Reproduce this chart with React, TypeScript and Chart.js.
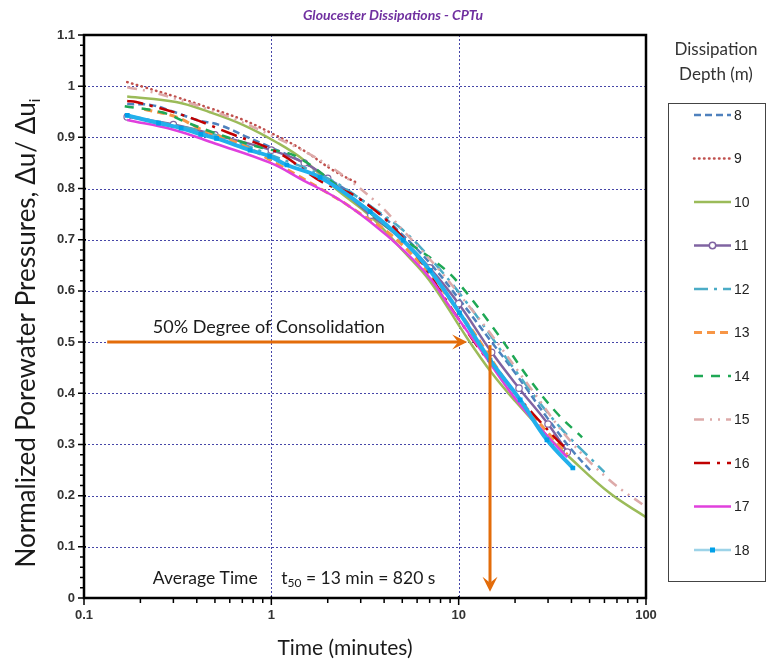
import React, { useEffect, useRef } from 'react';
import { Chart, registerables } from 'chart.js';

Chart.register(...registerables);

// ---------- DATA ----------
const DEPTHS = ['8', '9', '10', '11', '12', '13', '14', '15', '16', '17', '18'];

const T8 = [0.17, 0.23, 0.3, 0.4, 0.53, 0.75, 1, 1.5, 2, 3.4, 5, 7, 10, 15, 20, 30, 40, 52];
const U8 = [0.965, 0.963, 0.95, 0.934, 0.924, 0.9, 0.88, 0.85, 0.82, 0.765, 0.71, 0.655, 0.585, 0.5, 0.44, 0.35, 0.29, 0.244];

const T9 = [0.17, 0.21, 0.31, 0.47, 0.71, 0.98, 1.48, 2.13, 2.9];
const U9 = [1.008, 0.998, 0.979, 0.957, 0.934, 0.91, 0.875, 0.836, 0.81];

const T10 = [0.17, 0.31, 0.47, 0.71, 1.07, 1.5, 2.2, 3.4, 5, 7, 11, 15, 20, 30, 38, 64, 100];
const U10 = [0.98, 0.969, 0.949, 0.924, 0.89, 0.855, 0.8, 0.745, 0.68, 0.62, 0.51, 0.44, 0.385, 0.315, 0.279, 0.205, 0.158];

const T11 = [0.17, 0.3, 0.5, 1, 1.5, 2, 3.4, 5, 7, 10, 15, 21, 30, 38];
const U11 = [0.94, 0.925, 0.905, 0.875, 0.85, 0.82, 0.748, 0.7, 0.645, 0.575, 0.48, 0.41, 0.34, 0.285];

const T12 = [0.17, 0.25, 0.5, 1, 2, 3.4, 5, 7, 11, 20.5, 34.7, 60];
const U12 = [0.943, 0.93, 0.905, 0.865, 0.82, 0.765, 0.72, 0.665, 0.578, 0.44, 0.334, 0.246];

const T13 = [0.21, 0.31, 0.42, 0.7, 1.1, 1.88, 2.64, 5, 10, 20, 38];
const U13 = [0.955, 0.94, 0.916, 0.885, 0.846, 0.797, 0.764, 0.69, 0.56, 0.4, 0.28];

const T14 = [0.165, 0.26, 0.36, 0.47, 0.71, 0.9, 1.37, 2.5, 4.5, 7.7, 10, 16, 24, 33.5, 45.6];
const U14 = [0.961, 0.949, 0.928, 0.912, 0.89, 0.879, 0.862, 0.791, 0.715, 0.654, 0.615, 0.518, 0.426, 0.361, 0.314];

const T15 = [0.17, 0.245, 0.5, 1, 2, 3.7, 5, 7.7, 10, 14.7, 24, 39, 64, 100];
const U15 = [0.998, 0.986, 0.95, 0.904, 0.846, 0.771, 0.72, 0.645, 0.595, 0.518, 0.412, 0.309, 0.23, 0.178];

const T16 = [0.17, 0.19, 0.34, 0.6, 1.1, 1.88, 2.87, 5, 10, 13, 20, 33.5, 38.4];
const U16 = [0.971, 0.969, 0.943, 0.908, 0.869, 0.812, 0.783, 0.705, 0.545, 0.485, 0.4, 0.309, 0.289];

const T17 = [0.17, 0.3, 0.5, 0.99, 1.48, 2.24, 3.37, 5.05, 7.03, 9, 14, 20, 30, 38];
const U17 = [0.934, 0.915, 0.888, 0.85, 0.816, 0.781, 0.735, 0.68, 0.625, 0.568, 0.47, 0.39, 0.315, 0.275];

const T18 = [0.17, 0.25, 0.33, 0.42, 0.51, 0.77, 0.98, 1.21, 1.82, 3.37, 5.05, 7.03, 10.1, 14.7, 21.3, 29.6, 40.7];
const U18 = [0.943, 0.928, 0.918, 0.906, 0.898, 0.875, 0.863, 0.846, 0.822, 0.755, 0.699, 0.64, 0.557, 0.465, 0.387, 0.309, 0.254];

const SERIES_T = [T8, T9, T10, T11, T12, T13, T14, T15, T16, T17, T18];
const SERIES_U = [U8, U9, U10, U11, U12, U13, U14, U15, U16, U17, U18];

const X_TICKS = [0.1, 1, 10, 100];
const X_GRID = [1, 10];
const Y_GRID = [0.1, 0.2, 0.3, 0.4, 0.5, 0.6, 0.7, 0.8, 0.9, 1.0];

// annotation values (data coordinates)
const H_ARROW_T = [0.133, 11.1];
const H_ARROW_U = 0.5;
const V_ARROW_T = 14.7;
const V_ARROW_U = [0.494, 0.012];

// ---------- STYLES ----------
const TITLE = 'Gloucester Dissipations - CPTu';
const SANS = 'Lato, "Open Sans", sans-serif';
const ARIAL = '"Liberation Sans", Arial, sans-serif';
const GRID_COLOR = '#4646A8';
const ORANGE = '#E36C0A';

const STYLES: any[] = [
  { color: '#4F81BD', width: 2.5, dash: [7, 4] },
  { color: '#C0504D', width: 2.5, dash: [0.5, 4.5], cap: 'round' },
  { color: '#9BBB59', width: 2.5, dash: [] },
  { color: '#8064A2', width: 2.5, dash: [], point: 'circle', pr: 3.2, pbg: '#ffffff', pbc: '#8064A2' },
  { color: '#4BACC6', width: 2.5, dash: [14, 6, 3, 6] },
  { color: '#F79646', width: 3, dash: [8, 5] },
  { color: '#1FA855', width: 2.5, dash: [9, 8] },
  { color: '#DDAAA9', width: 2.5, dash: [10, 6, 2, 6, 2, 6] },
  { color: '#C00000', width: 2.5, dash: [16, 7, 3, 7] },
  { color: '#E040DD', width: 2.5, dash: [] },
  { color: '#22B0EC', width: 4, dash: [], point: 'rect', pr: 2.5, pbg: '#00A0E8', pbc: '#00A0E8', legendColor: '#9DD3E8', legendWidth: 2.5 },
];

const LEG = { x: 668, y: 103, w: 98, h: 478, first: 115, step: 43.5, x1: 694, x2: 731, tx: 734 };

function drawArrow(ctx: CanvasRenderingContext2D, x1: number, y1: number, x2: number, y2: number) {
  const ang = Math.atan2(y2 - y1, x2 - x1);
  const L = 15, W = 7.5, N = 9;
  const c = Math.cos(ang), s = Math.sin(ang);
  ctx.beginPath();
  ctx.moveTo(x1, y1);
  ctx.lineTo(x2 - c * N, y2 - s * N);
  ctx.stroke();
  ctx.beginPath();
  ctx.moveTo(x2, y2);
  ctx.lineTo(x2 - c * L - s * W, y2 - s * L + c * W);
  ctx.lineTo(x2 - c * N, y2 - s * N);
  ctx.lineTo(x2 - c * L + s * W, y2 - s * L - c * W);
  ctx.closePath();
  ctx.fill();
}

function drawParts(ctx: CanvasRenderingContext2D, x: number, y: number, parts: { t: string; f: string; dy: number }[]) {
  let cx = x;
  for (const p of parts) {
    ctx.font = p.f;
    ctx.fillText(p.t, cx, y + p.dy);
    cx += ctx.measureText(p.t).width;
  }
}

const decor = {
  id: 'decor',
  beforeDatasetsDraw(chart: any) {
    const { ctx, chartArea: a, scales } = chart;
    const x = scales.x, y = scales.y;
    ctx.save();
    ctx.strokeStyle = GRID_COLOR;
    ctx.lineWidth = 1;
    ctx.setLineDash([2, 2]);
    ctx.beginPath();
    for (const v of Y_GRID) {
      const py = Math.round(y.getPixelForValue(v)) + 0.5;
      ctx.moveTo(a.left, py);
      ctx.lineTo(a.right, py);
    }
    for (const v of X_GRID) {
      const px = Math.round(x.getPixelForValue(v)) + 0.5;
      ctx.moveTo(px, a.top);
      ctx.lineTo(px, a.bottom);
    }
    ctx.stroke();
    ctx.restore();
  },
  afterDatasetsDraw(chart: any) {
    const { ctx, scales } = chart;
    const x = scales.x, y = scales.y;
    ctx.save();
    ctx.strokeStyle = ORANGE;
    ctx.fillStyle = ORANGE;
    ctx.lineWidth = 3;
    drawArrow(ctx, x.getPixelForValue(H_ARROW_T[0]), y.getPixelForValue(H_ARROW_U), x.getPixelForValue(H_ARROW_T[1]), y.getPixelForValue(H_ARROW_U));
    drawArrow(ctx, x.getPixelForValue(V_ARROW_T), y.getPixelForValue(V_ARROW_U[0]), x.getPixelForValue(V_ARROW_T), y.getPixelForValue(V_ARROW_U[1]));

    ctx.fillStyle = '#1a1a1a';
    ctx.textBaseline = 'middle';
    ctx.textAlign = 'left';
    ctx.font = `18px ${SANS}`;
    ctx.fillText('50% Degree of Consolidation', x.getPixelForValue(0.233), y.getPixelForValue(0.53));
    ctx.font = `17.5px ${SANS}`;
    ctx.fillText('Average Time', x.getPixelForValue(0.233), y.getPixelForValue(0.039));
    drawParts(ctx, x.getPixelForValue(1.13), y.getPixelForValue(0.039), [
      { t: 't', f: `17.5px ${SANS}`, dy: 0 },
      { t: '50', f: `12px ${SANS}`, dy: 5 },
      { t: ' = 13 min = 820 s', f: `17.5px ${SANS}`, dy: 0 },
    ]);
    ctx.restore();
  },
  afterDraw(chart: any) {
    const { ctx, chartArea: a, scales } = chart;
    const x = scales.x, y = scales.y;
    ctx.save();
    // axis ticks
    ctx.strokeStyle = '#000';
    ctx.lineWidth = 1.5;
    ctx.beginPath();
    for (let k = 0; k <= 55; k++) {
      const py = y.getPixelForValue(k * 0.02);
      const major = k % 5 === 0;
      ctx.moveTo(a.left - (major ? 6 : 4), py);
      ctx.lineTo(a.left + (major ? 2 : 0), py);
    }
    for (const dec of [0.1, 1, 10]) {
      for (let m = 1; m <= 10; m++) {
        const px = x.getPixelForValue(dec * m);
        const major = m === 1 || m === 10;
        ctx.moveTo(px, a.bottom + (major ? 7 : 5));
        ctx.lineTo(px, a.bottom - (major ? 2 : 0));
      }
    }
    ctx.stroke();
    // border
    ctx.lineWidth = 2.5;
    ctx.strokeRect(a.left, a.top, a.right - a.left, a.bottom - a.top);

    // title
    ctx.fillStyle = '#7030A0';
    ctx.font = `italic bold 14px ${SANS}`;
    ctx.textAlign = 'center';
    ctx.textBaseline = 'middle';
    ctx.fillText(TITLE, 393, 15);

    // x title
    ctx.fillStyle = '#1a1a1a';
    ctx.font = `21px ${SANS}`;
    ctx.fillText('Time (minutes)', 345, 648);

    // y title
    ctx.save();
    ctx.translate(27, 333);
    ctx.rotate(-Math.PI / 2);
    const main = 'Normalized Porewater Pressures, \u0394u/ \u0394u';
    ctx.font = `26px ${SANS}`;
    const wMain = ctx.measureText(main).width;
    ctx.font = `15px ${SANS}`;
    const wSub = ctx.measureText('i').width;
    ctx.textAlign = 'left';
    drawParts(ctx, -(wMain + wSub) / 2, 0, [
      { t: main, f: `26px ${SANS}`, dy: 0 },
      { t: 'i', f: `15px ${SANS}`, dy: 8 },
    ]);
    ctx.restore();

    // legend
    ctx.fillStyle = '#333';
    ctx.font = `17px ${SANS}`;
    ctx.textAlign = 'center';
    ctx.fillText('Dissipation', 716, 50);
    ctx.fillText('Depth (m)', 716, 75);
    ctx.strokeStyle = '#444';
    ctx.lineWidth = 1;
    ctx.strokeRect(LEG.x + 0.5, LEG.y + 0.5, LEG.w - 1, LEG.h);
    chart.data.datasets.forEach((ds: any, i: number) => {
      const st = STYLES[i];
      const ly = LEG.first + i * LEG.step;
      ctx.save();
      ctx.strokeStyle = st.legendColor || st.color;
      ctx.lineWidth = st.legendWidth || st.width;
      ctx.lineCap = st.cap || 'butt';
      ctx.setLineDash(st.dash);
      ctx.beginPath();
      ctx.moveTo(LEG.x1, ly);
      ctx.lineTo(LEG.x2, ly);
      ctx.stroke();
      ctx.setLineDash([]);
      if (st.point) {
        const mx = (LEG.x1 + LEG.x2) / 2;
        ctx.fillStyle = st.pbg;
        ctx.strokeStyle = st.pbc;
        ctx.lineWidth = 1.5;
        if (st.point === 'circle') {
          ctx.beginPath();
          ctx.arc(mx, ly, st.pr, 0, Math.PI * 2);
          ctx.fill();
          ctx.stroke();
        } else {
          ctx.fillRect(mx - st.pr, ly - st.pr, st.pr * 2, st.pr * 2);
        }
      }
      ctx.restore();
      ctx.fillStyle = '#222';
      ctx.font = `14px ${ARIAL}`;
      ctx.textAlign = 'left';
      ctx.textBaseline = 'middle';
      ctx.fillText(ds.label, LEG.tx, ly + 1);
    });
    ctx.restore();
  },
};

export default function App() {
  const ref = useRef<HTMLCanvasElement | null>(null);
  useEffect(() => {
    if (!ref.current) return;
    const datasets = DEPTHS.map((d, i) => {
      const st = STYLES[i];
      return {
        label: d,
        data: SERIES_T[i].map((t, k) => ({ x: t, y: SERIES_U[i][k] })),
        borderColor: st.color,
        backgroundColor: st.color,
        borderWidth: st.width,
        borderDash: st.dash,
        borderCapStyle: st.cap || 'butt',
        pointRadius: st.point ? st.pr : 0,
        pointStyle: st.point || 'circle',
        pointBackgroundColor: st.pbg,
        pointBorderColor: st.pbc,
        pointBorderWidth: 1.2,
        tension: 0.4,
        fill: false,
        order: -i,
      };
    });
    const chart = new Chart(ref.current, {
      type: 'line',
      data: { datasets } as any,
      plugins: [decor],
      options: {
        responsive: false,
        animation: false,
        layout: { padding: { top: 35, right: 120, left: 0, bottom: 0 } },
        plugins: { legend: { display: false }, tooltip: { enabled: false }, title: { display: false } },
        scales: {
          x: {
            type: 'logarithmic',
            min: 0.1,
            max: 100,
            grid: { display: false, drawTicks: false },
            border: { display: false },
            ticks: {
              autoSkip: false,
              maxRotation: 0,
              padding: 10,
              color: '#333',
              font: { family: ARIAL, size: 13, weight: 'bold' },
              callback: (v: any) => String(v),
            },
            afterBuildTicks: (s: any) => {
              s.ticks = X_TICKS.map((v) => ({ value: v }));
            },
            afterFit: (s: any) => {
              s.height = 66;
            },
          },
          y: {
            type: 'linear',
            min: 0,
            max: 1.1,
            grid: { display: false, drawTicks: false },
            border: { display: false },
            ticks: {
              stepSize: 0.1,
              padding: 9,
              color: '#333',
              font: { family: ARIAL, size: 13, weight: 'bold' },
              callback: (v: any) => String(Math.round(Number(v) * 10) / 10),
            },
            afterFit: (s: any) => {
              s.width = 84;
            },
          },
        },
      } as any,
    });
    return () => chart.destroy();
  }, []);
  return (
    <div style={{ position: 'absolute', left: 0, top: 0, width: 766, height: 664, background: '#fff' }}>
      <canvas ref={ref} width={766} height={664} style={{ display: 'block' }} />
    </div>
  );
}
